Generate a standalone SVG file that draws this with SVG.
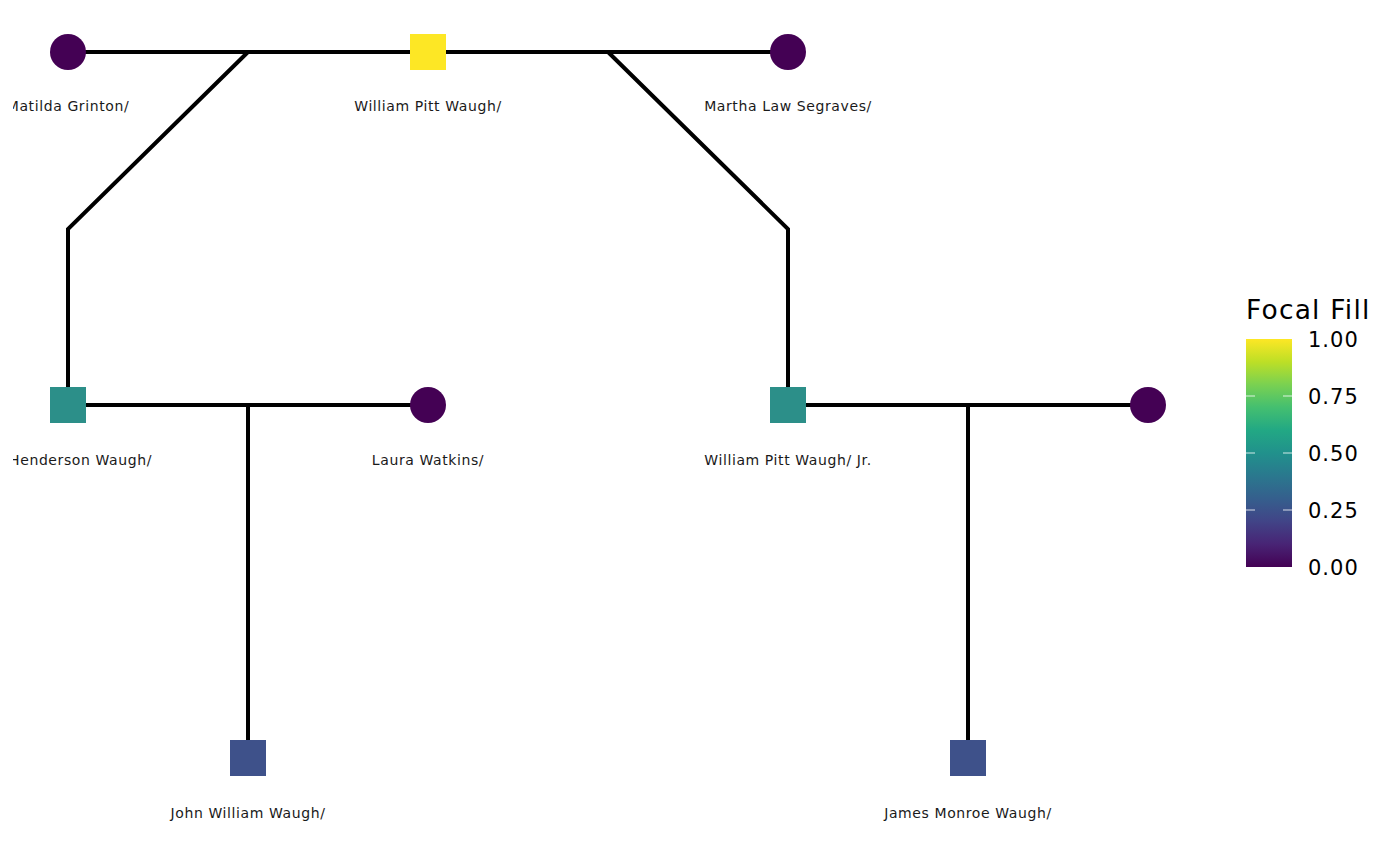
<svg xmlns="http://www.w3.org/2000/svg" width="1400" height="865" viewBox="0 0 1400 865">
<style>
.edge{stroke:#000;stroke-width:4;fill:none;stroke-linecap:butt}
.lbl{font-family:"DejaVu Sans",sans-serif;font-size:14px;letter-spacing:0.6px;fill:#1a1a1a;text-anchor:middle}
.leg{font-family:"DejaVu Sans",sans-serif;font-size:21px;letter-spacing:1px;fill:#000}
.f0{fill:#440154}
.f25{fill:#3E518A}
.f50{fill:#2C8F89}
.f100{fill:#FDE725}
</style>
<defs>
<linearGradient id="viridis" x1="0" y1="1" x2="0" y2="0">
<stop offset="0" stop-color="#440154"/>
<stop offset="0.1" stop-color="#482475"/>
<stop offset="0.2" stop-color="#414487"/>
<stop offset="0.3" stop-color="#355F8D"/>
<stop offset="0.4" stop-color="#2A788E"/>
<stop offset="0.5" stop-color="#21918C"/>
<stop offset="0.6" stop-color="#22A884"/>
<stop offset="0.7" stop-color="#44BF70"/>
<stop offset="0.8" stop-color="#7AD151"/>
<stop offset="0.9" stop-color="#BDDF26"/>
<stop offset="1" stop-color="#FDE725"/>
</linearGradient>
<clipPath id="panel"><rect x="13" y="0" width="1220" height="865"/></clipPath>
</defs>
<rect width="1400" height="865" fill="#fff"/>
<g id="connectors">
<path class="edge" d="M68 52H788"/>
<path class="edge" d="M248 52L68 229V405"/>
<path class="edge" d="M608 52L788 229V405"/>
<path class="edge" d="M68 405H428"/>
<path class="edge" d="M248 405V758"/>
<path class="edge" d="M788 405H1148"/>
<path class="edge" d="M968 405V758"/>
</g>
<g clip-path="url(#panel)">
<g id="matilda"><circle class="f0" cx="68" cy="52" r="18"/><text class="lbl" x="68" y="111">Matilda Grinton/</text></g>
<g id="william"><rect class="f100" x="410" y="34" width="36" height="36"/><text class="lbl" x="428" y="111">William Pitt Waugh/</text></g>
<g id="martha"><circle class="f0" cx="788" cy="52" r="18"/><text class="lbl" x="788" y="111">Martha Law Segraves/</text></g>
<g id="henderson"><rect class="f50" x="50" y="387" width="36" height="36"/><text class="lbl" x="152" y="465" style="text-anchor:end">Henderson Waugh/</text></g>
<g id="laura"><circle class="f0" cx="428" cy="405" r="18"/><text class="lbl" x="428" y="465">Laura Watkins/</text></g>
<g id="williamjr"><rect class="f50" x="770" y="387" width="36" height="36"/><text class="lbl" x="788" y="465">William Pitt Waugh/ Jr.</text></g>
<g id="spouse"><circle class="f0" cx="1148" cy="405" r="18"/></g>
<g id="john"><rect class="f25" x="230" y="740" width="36" height="36"/><text class="lbl" x="248" y="818">John William Waugh/</text></g>
<g id="james"><rect class="f25" x="950" y="740" width="36" height="36"/><text class="lbl" x="968" y="818">James Monroe Waugh/</text></g>
</g>
<g id="legend">
<text class="leg" x="1246" y="319" style="font-size:26.5px;letter-spacing:1.2px">Focal Fill</text>
<rect x="1246" y="339" width="46" height="228" fill="url(#viridis)"/>
<g stroke="#fff" stroke-width="1.2" opacity="0.8">
<path d="M1246 396h9M1283 396h9M1246 453h9M1283 453h9M1246 510h9M1283 510h9"/>
</g>
<text class="leg" x="1308" y="347">1.00</text>
<text class="leg" x="1308" y="404">0.75</text>
<text class="leg" x="1308" y="461">0.50</text>
<text class="leg" x="1308" y="518">0.25</text>
<text class="leg" x="1308" y="575">0.00</text>
</g>
</svg>
